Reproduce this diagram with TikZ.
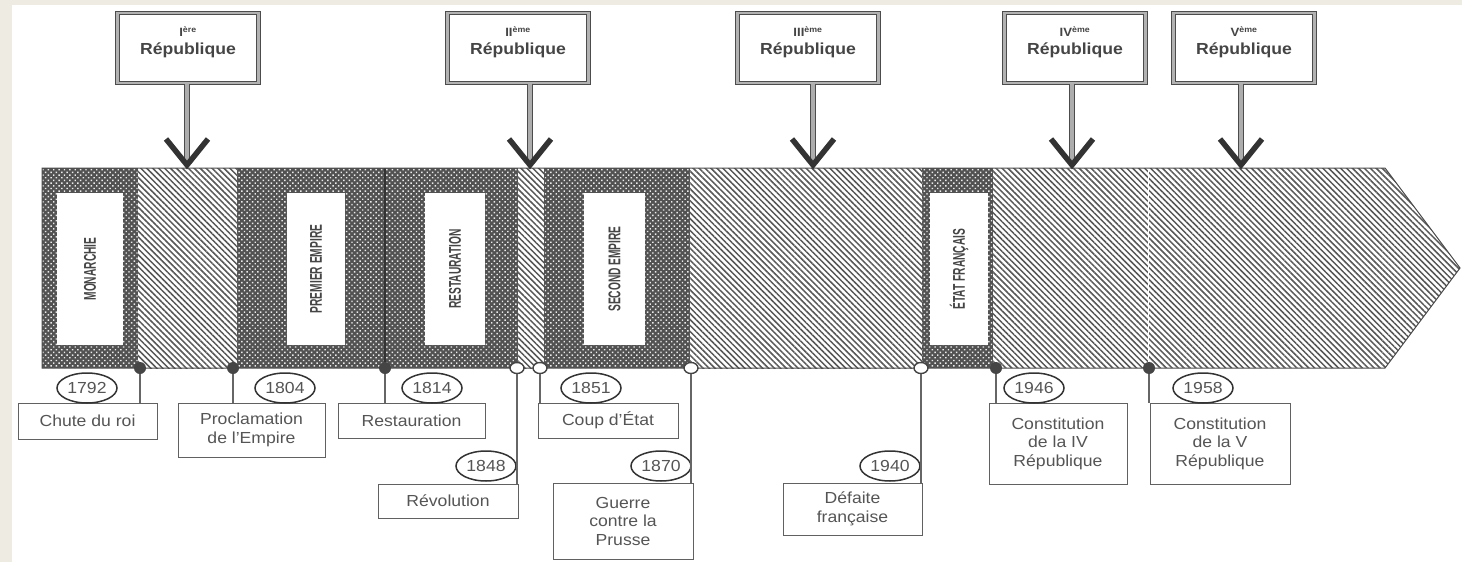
\documentclass[tikz,border=0pt]{standalone}
\usepackage{fontspec}
\setmainfont{Liberation Sans}[FakeStretch=1.1]
\newfontfamily\bandfont{Liberation Sans}[FakeStretch=0.6]
\usepackage{tikz}
\usetikzlibrary{arrows.meta,positioning,shapes.geometric,patterns.meta}
\definecolor{PaperBeige}{HTML}{EEEBE3}
\definecolor{InkGrey}{HTML}{454545}
\definecolor{TextGrey}{HTML}{555555}

\begin{document}
\begin{tikzpicture}[x=1pt, y=-1pt,
  darkseg/.style={preaction={fill=black!68},
                  pattern={Dots[angle=45, distance=3.8pt, radius=1pt]},
                  pattern color=white!92!black},
  lightseg/.style={preaction={fill=white},
                   pattern={Lines[angle=-45, distance=4.2pt, line width=1.5pt]},
                   pattern color=black!66},
  bandlabel/.style={rectangle, fill=white, rotate=90, inner sep=0pt,
                    font=\bandfont\bfseries\fontsize{17}{17}\selectfont, text=InkGrey},
  repbox/.style={rectangle, draw=black!70, line width=1pt, double=black!30,
                 double distance=2.8pt, fill=white, minimum width=141pt,
                 minimum height=70pt, align=center, text=InkGrey,
                 font=\fontsize{16}{18}\selectfont\bfseries, text depth=15pt},
  stem/.style={draw=black!70, line width=1pt, double=black!32, double distance=4.4pt},
  chev/.style={draw=black!80, line width=5.5pt, line join=miter},
  evbox/.style={rectangle, draw=black!62, line width=1pt, fill=white, align=center,
                inner sep=2pt, font=\fontsize{16}{18.5}\selectfont, text=TextGrey},
  yearov/.style={ellipse, draw=black!80, line width=1.5pt, fill=white,
                 minimum width=60pt, minimum height=30pt, inner sep=0pt,
                 font=\fontsize{16}{16}\selectfont, text=TextGrey},
  fdot/.style={circle, fill=InkGrey, inner sep=0pt, minimum size=12pt},
  odot/.style={ellipse, draw=InkGrey, line width=1.4pt, fill=white, inner sep=0pt,
               minimum width=14pt, minimum height=11pt},
  evline/.style={draw=black!60, line width=1.1pt}
]
  \useasboundingbox (0,0) rectangle (1462,562);
  \fill[PaperBeige] (0,0) rectangle (1462,562);
  \fill[white] (12,5) rectangle (1462,562);

  % the band
  \path[darkseg] (42,168) rectangle (138,368);
  \path[lightseg] (138,168) rectangle (237,368);
  \path[darkseg] (237,168) rectangle (385,368);
  \path[darkseg] (385,168) rectangle (518,368);
  \path[lightseg] (518,168) rectangle (544,368);
  \path[darkseg] (544,168) rectangle (690,368);
  \path[lightseg] (690,168) rectangle (922,368);
  \path[darkseg] (922,168) rectangle (993,368);
  \path[lightseg] (993,168) -- (1385,168) -- (1460,268) -- (1385,368) -- (993,368) -- cycle;
  \draw[white, line width=1pt] (1148,169) -- (1148,367);
  \draw[black!80, line width=1.5pt] (385,168) -- (385,368);
  \draw[black!70, line width=1pt] (42,168) -- (1385,168) -- (1460,268) -- (1385,368) -- (42,368) -- cycle;

  \node[bandlabel, minimum width=152pt, minimum height=66pt] (monarchie) at (90,269) {MONARCHIE};
  \node[bandlabel, minimum width=152pt, minimum height=58pt] (empire1) at (316,269) {PREMIER EMPIRE};
  \node[bandlabel, minimum width=152pt, minimum height=60pt] (restau) at (455,269) {RESTAURATION};
  \node[bandlabel, minimum width=152pt, minimum height=61pt] (empire2) at (614.5,269) {SECOND EMPIRE};
  \node[bandlabel, minimum width=152pt, minimum height=58pt] (etatfr) at (959,269) {ÉTAT FRANÇAIS};

  % republics
  \node[repbox] (rep1) at (188,48) {{\fontsize{12}{12}\selectfont I\textsuperscript{ère}}\\[0pt]République};
  \node[repbox] (rep2) at (518,48) {{\fontsize{12}{12}\selectfont II\textsuperscript{ème}}\\[0pt]République};
  \node[repbox] (rep3) at (808,48) {{\fontsize{12}{12}\selectfont III\textsuperscript{ème}}\\[0pt]République};
  \node[repbox] (rep4) at (1075,48) {{\fontsize{12}{12}\selectfont IV\textsuperscript{ème}}\\[0pt]République};
  \node[repbox] (rep5) at (1244,48) {{\fontsize{12}{12}\selectfont V\textsuperscript{ème}}\\[0pt]République};

  \coordinate (a1) at (187,165);
  \coordinate (a2) at (530,165);
  \coordinate (a3) at (813,165);
  \coordinate (a4) at (1072,165);
  \coordinate (a5) at (1241,165);
  \foreach \r in {1,...,5} {
    \draw[stem] (rep\r.south -| a\r) -- (a\r);
    \draw[chev] ([shift={(-21,-26)}]a\r) -- (a\r) -- ([shift={(21,-26)}]a\r);
  }

  % events
  \node[evbox, minimum width=139pt, minimum height=36pt] (ev1792) at (87.5,421) {Chute du roi};
  \node[evbox, minimum width=147pt, minimum height=54pt] (ev1804) at (251.5,430) {Proclamation\\de l'Empire};
  \node[evbox, minimum width=147pt, minimum height=35pt] (ev1814) at (411.5,420.5) {Restauration};
  \node[evbox, minimum width=140pt, minimum height=34pt] (ev1848) at (448,501) {Révolution};
  \node[evbox, minimum width=140pt, minimum height=35pt] (ev1851) at (608,420.5) {Coup d'État};
  \node[evbox, minimum width=140pt, minimum height=76pt] (ev1870) at (623,521) {Guerre\\contre la\\Prusse};
  \node[evbox, minimum width=139pt, minimum height=52pt] (ev1940) at (852.5,509) {Défaite\\française};
  \node[evbox, minimum width=138pt, minimum height=81pt] (ev1946) at (1058,443.5) {Constitution\\de la IV\\République};
  \node[evbox, minimum width=140pt, minimum height=81pt] (ev1958) at (1220,443.5) {Constitution\\de la V\\République};

  \node[yearov] (y1792) at (87,388) {1792};
  \node[yearov] (y1804) at (285,388) {1804};
  \node[yearov] (y1814) at (432,388) {1814};
  \node[yearov] (y1848) at (486,466) {1848};
  \node[yearov] (y1851) at (591,388) {1851};
  \node[yearov] (y1870) at (661,466) {1870};
  \node[yearov] (y1940) at (890,466) {1940};
  \node[yearov] (y1946) at (1034,388) {1946};
  \node[yearov] (y1958) at (1203,388) {1958};

  \node[fdot] (d1792) at (140,368) {};
  \node[fdot] (d1804) at (233,368) {};
  \node[fdot] (d1814) at (385,368) {};
  \node[odot] (d1848) at (517,368) {};
  \node[odot] (d1851) at (540,368) {};
  \node[odot] (d1870) at (691,368) {};
  \node[odot] (d1940) at (921,368) {};
  \node[fdot] (d1946) at (996,368) {};
  \node[fdot] (d1958) at (1149,368) {};

  \foreach \y in {1792,1804,1814,1848,1851,1870,1940,1946,1958}
    \draw[evline] (d\y.south) -- (d\y |- ev\y.north);
\end{tikzpicture}
\end{document}
